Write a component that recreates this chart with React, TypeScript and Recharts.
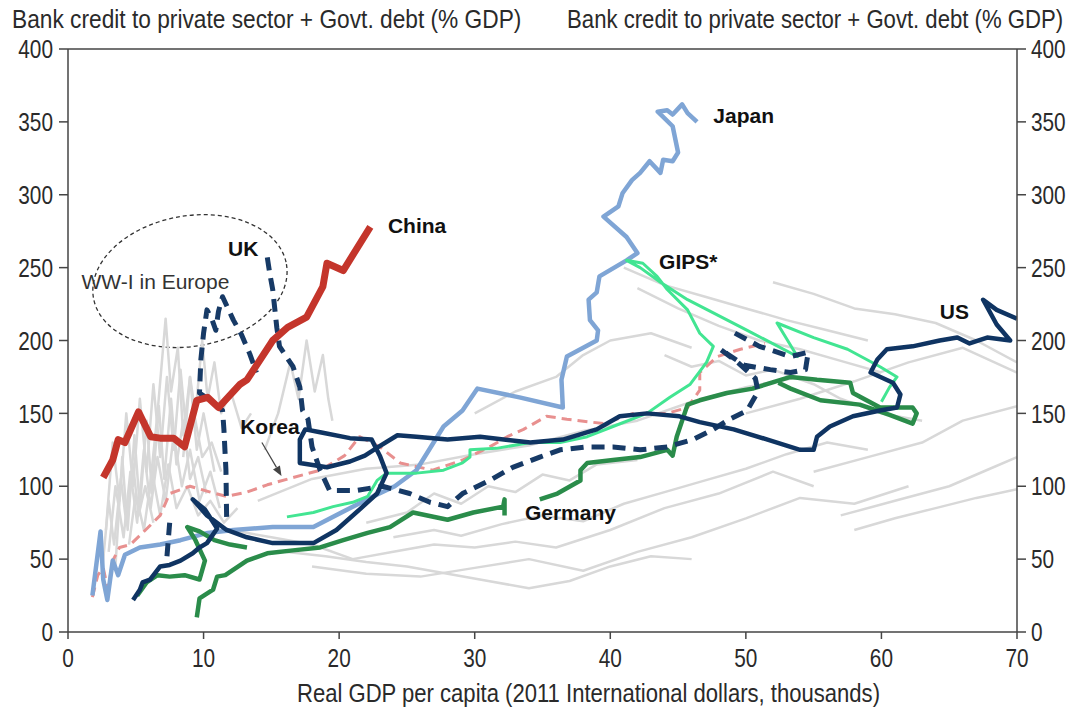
import React from 'react';
import { LineChart, Line, XAxis, YAxis, ReferenceLine, ReferenceArea, ReferenceDot } from 'recharts';

type Pt = [number, number | null];

const xTicks = [0, 10, 20, 30, 40, 50, 60, 70];
const yTicks = [0, 50, 100, 150, 200, 250, 300, 350, 400];

const yTitle = 'Bank credit to private sector  + Govt. debt (% GDP)';
const xTitle = 'Real GDP per capita (2011 International  dollars, thousands)';

const chinaPts: Pt[] = [
  [2.6, 106], [3.3, 118], [3.7, 132], [4.2, 130], [5.2, 151], [6.1, 134], [6.8, 133], [7.8, 133],
  [8.6, 127], [9.5, 159], [10.3, 161], [11.1, 154], [12.7, 170], [13.2, 173], [15.1, 200],
  [16.2, 209], [17.6, 216], [18.8, 237], [19.1, 253], [20.3, 248], [22.3, 278],
];

const japanPts: Pt[] = [
  [1.8, 25], [2.4, 69], [2.6, 36], [2.9, 22], [3.3, 49], [3.7, 39], [4.2, 53], [5.3, 58], [6.8, 60],
  [8.3, 63], [10.3, 68], [12.2, 70], [15.1, 72], [18.1, 72], [21.0, 86], [22.5, 93], [24.1, 100],
  [25.7, 111], [27.7, 141], [29.1, 152], [30.2, 167], [33.3, 161], [36.5, 154], [36.4, 173],
  [36.8, 189], [39.0, 200], [39.1, 207], [38.5, 214], [38.4, 228], [39.0, 233], [39.2, 244],
  [41.2, 255], [42.0, 260], [41.2, 271], [39.5, 285], [40.6, 292], [40.9, 301], [41.6, 310],
  [42.2, 315], [42.9, 323], [43.7, 315], [43.9, 324], [44.6, 323], [45.0, 329], [44.6, 347],
  [43.5, 357], [44.2, 358], [44.6, 355], [45.3, 362], [45.7, 356], [46.4, 350],
];

const ukPts: Pt[] = [
  [7.3, 52], [7.5, 75], [7.5, null],
  [11.7, 79], [11.65, 111], [11.5, 139], [11.4, 152], [10.5, 159], [9.7, 164], [9.8, 187], [10.0, 205],
  [10.25, 221], [10.6, 215], [10.9, 207], [11.1, 220], [11.4, 230], [11.8, 222], [12.2, 214],
  [12.8, 204], [13.4, 191], [13.9, 178], [13.9, null],
  [14.7, 257], [14.9, 245], [15.1, 235], [15.4, 209], [15.6, 196], [16.6, 182], [17.1, 168],
  [17.3, 152], [17.7, 146], [18.0, 127], [18.6, 111], [19.3, 97], [21.2, 97], [23.2, 100],
  [25.2, 95], [26.7, 89], [28.0, 86], [29.1, 95], [31.1, 104], [32.8, 113], [34.8, 120],
  [36.3, 125], [38.3, 127], [40.2, 127], [42.2, 125], [44.2, 127], [46.1, 132], [47.6, 139],
  [48.8, 146], [50.1, 152], [50.9, 165], [50.7, 174], [49.4, 185], [48.1, 194], [49.9, 183],
  [51.8, 180], [53.3, 178], [54.4, 180], [54.6, 192], [53.3, 189], [51.0, 196], [48.8, 207],
];

const koreaPts: Pt[] = [
  [1.8, 24], [2.2, 39], [2.6, 44], [2.95, 29], [3.3, 49], [3.8, 58], [4.6, 60], [5.5, 68],
  [6.8, 80], [7.5, 95], [9.0, 100], [10.5, 96], [11.7, 93], [13.2, 96], [14.7, 101], [16.6, 106],
  [18.6, 111], [20.4, 121], [21.5, 134], [23.0, 127], [24.5, 116], [26.9, 111], [29.1, 118],
  [31.1, 127], [32.4, 134], [33.6, 139], [35.3, 148], [36.8, 146], [39.5, 143], [41.7, 150],
  [44.2, 150], [45.7, 154], [46.6, 166], [46.6, 178], [47.9, 189], [49.6, 194], [51.4, 198],
];

const usPts: Pt[] = [
  [4.8, 22], [5.3, 29], [5.5, 34], [6.05, 36], [6.8, 45], [7.5, 46], [8.3, 49], [9.2, 54], [9.7, 58],
  [10.25, 61], [10.7, 67], [11.0, 71], [10.1, 84], [9.2, 91], [10.25, 80], [11.7, 70], [13.2, 65],
  [15.1, 61], [18.1, 61], [19.8, 70], [21.5, 84], [22.8, 95], [23.5, 109], [23.0, 121], [22.4, 132],
  [20.8, 133], [18.6, 137], [17.5, 139], [17.1, 132], [17.1, 116], [19.1, 113], [20.8, 117],
  [21.9, 121], [22.9, 127], [24.3, 135], [25.7, 134], [28.0, 132], [30.4, 134], [34.1, 130],
  [36.5, 132], [39.0, 139], [40.7, 148], [42.7, 150], [45.1, 148], [46.6, 144], [49.1, 139],
  [51.6, 132], [54.0, 125], [55.0, 125], [55.25, 134], [56.2, 141], [57.9, 148], [59.9, 152],
  [61.15, 154], [61.4, 163], [60.85, 171], [59.2, 178], [59.7, 187], [60.4, 194], [62.3, 196],
  [64.3, 200], [65.6, 202], [66.5, 198], [67.8, 202], [69.5, 200], [68.5, 211], [67.5, 228],
  [68.5, 221], [70.0, 215],
];

const gipsPts: Pt[] = [
  [16.15, 79], [18.1, 82], [19.55, 86], [21.0, 89], [22.1, 93], [22.8, 104], [23.5, 109], [25.7, 109],
  [27.7, 111], [29.1, 116], [29.65, 120], [29.65, 125], [31.6, 126], [34.1, 130], [36.3, 130],
  [38.3, 134], [40.2, 141], [42.7, 150], [44.4, 161], [45.9, 170], [47.1, 185], [47.6, 196],
  [46.6, 205], [45.7, 221], [44.2, 235], [43.45, 244], [42.4, 253], [41.2, 255], [42.2, 250],
  [43.7, 240], [45.7, 228], [47.6, 219], [50.1, 207], [53.8, 189], [52.3, 212], [55.0, 202],
  [57.5, 194], [59.9, 182], [61.15, 175], [60.6, 168], [60.0, 158],
];

const germanyPts: Pt[] = [
  [5.1, 25], [5.8, 34], [6.6, 39], [7.5, 38], [8.6, 39], [9.7, 36], [10.1, 49], [9.4, 63], [8.8, 72],
  [9.7, 69], [10.8, 63], [11.95, 60], [13.2, 58], [13.2, null],
  [9.5, 10], [9.7, 23], [10.7, 29], [11.0, 38], [11.6, 39], [13.2, 49], [14.7, 54], [16.6, 56],
  [18.6, 58], [20.3, 63], [22.1, 68], [23.75, 72], [25.45, 82], [28.0, 77], [29.9, 82], [32.1, 86],
  [32.2, 91], [32.2, 80], [32.2, null],
  [34.8, 91], [36.1, 95], [37.8, 104], [37.8, 111], [38.3, 116], [40.2, 118], [42.2, 120],
  [44.2, 125], [44.6, 121], [44.9, 134], [45.7, 156], [46.6, 159], [48.6, 164], [50.5, 167],
  [53.3, 175], [55.25, 173], [57.7, 171], [57.9, 164], [58.9, 159], [59.9, 154], [62.3, 154],
  [62.6, 150], [62.3, 143], [60.6, 149], [58.4, 156], [55.5, 159], [53.3, 167], [52.4, 171],
];

const grayA: Pt[] = [[3.5, 45], [4.0, 120], [4.4, 70], [4.9, 135], [5.3, 85], [5.8, 145], [6.2, 95], [6.7, 155], [7.1, 105], [7.6, 160], [8.0, 115], [8.5, 145], [9.0, 105], [9.6, 120], [10.2, 95]];
const grayB: Pt[] = [[3.0, 55], [3.5, 100], [4.1, 65], [4.6, 110], [5.1, 75], [5.6, 125], [6.1, 85], [6.6, 120], [7.2, 90], [7.8, 135], [8.4, 100], [9.0, 125], [9.7, 90], [10.5, 110], [11.2, 85]];
const grayC: Pt[] = [[6.0, 95], [6.6, 150], [7.2, 215], [7.6, 165], [8.1, 195], [8.5, 135], [9.0, 175], [9.5, 125], [10.0, 150], [10.8, 110]];
const grayD: Pt[] = [[4.5, 60], [5.0, 95], [5.6, 70], [6.2, 110], [6.8, 80], [7.4, 115], [8.0, 85], [8.8, 100], [9.6, 80], [10.5, 90], [11.5, 75], [12.5, 85]];
const grayE: Pt[] = [[14.5, 125], [15.5, 150], [16.4, 185], [17.0, 160], [17.6, 200], [18.2, 165], [18.8, 190], [19.2, 160], [19.5, 145]];
const grayF: Pt[] = [[12, 70], [15, 65], [18, 60], [21, 50], [24, 55], [27, 60], [30, 58], [33, 62], [36, 58], [40, 70], [44, 85], [48, 95], [52, 110], [55, 100]];
const grayG: Pt[] = [[18, 45], [22, 40], [26, 38], [30, 44], [34, 50], [38, 42], [42, 55], [46, 65], [50, 78], [54, 92], [58, 88], [62, 100]];
const grayH: Pt[] = [[14, 90], [18, 105], [22, 112], [26, 115], [30, 122], [34, 128], [38, 138], [42, 145], [46, 158], [50, 168], [54, 175]];
const grayI: Pt[] = [[41, 250], [44, 238], [47, 230], [50, 222], [53, 214], [56, 207], [59, 200]];
const grayJ: Pt[] = [[42, 236], [45, 222], [48, 210], [51, 200], [54, 194], [57, 186], [60, 178]];
const grayK: Pt[] = [[52, 240], [55, 232], [58, 222], [61, 218], [64, 212], [67, 200], [70, 185]];
const grayL: Pt[] = [[50, 150], [54, 160], [58, 172], [62, 185], [66, 195], [70, 178]];
const grayM: Pt[] = [[55, 110], [59, 120], [63, 130], [66, 145], [70, 155]];
const grayN: Pt[] = [[57, 80], [61, 90], [65, 100], [68, 112], [70, 120]];
const grayO: Pt[] = [[30, 150], [33, 165], [36, 175], [38, 190], [40, 200], [43, 205], [46, 195]];
const grayP: Pt[] = [[2.5, 40], [3.0, 90], [3.4, 60], [3.9, 105], [4.3, 75], [4.8, 115], [5.2, 80], [5.7, 100], [6.3, 75]];
const grayQ: Pt[] = [[22, 75], [25, 82], [27, 95], [29, 88], [31, 100], [33, 96], [35, 108], [37, 104], [39, 115], [42, 118]];
const grayR: Pt[] = [[44, 190], [46, 182], [48, 186], [50, 176], [52, 180], [55, 170], [57, 160], [60, 150], [63, 145]];
const grayS: Pt[] = [[2.8, 70], [3.3, 130], [3.8, 90], [4.3, 150], [4.8, 100], [5.3, 160], [5.8, 110], [6.3, 170], [6.8, 120], [7.3, 175], [7.8, 125], [8.3, 180], [8.8, 130], [9.3, 150], [9.9, 120], [10.6, 130], [11.3, 110]];
const grayT: Pt[] = [[8.5, 120], [9.0, 175], [9.4, 150], [9.9, 200], [10.3, 160], [10.8, 185], [11.3, 150], [12.0, 165], [12.8, 140], [13.5, 150]];
const grayU: Pt[] = [[16, 55], [19, 52], [22, 48], [25, 45], [28, 40], [31, 35], [34, 30], [37, 35], [40, 45], [43, 52], [46, 50]];
const grayV: Pt[] = [[24, 65], [27, 70], [29, 66], [32, 74], [35, 80], [38, 76], [41, 88], [44, 96], [47, 104], [50, 112], [53, 122], [56, 130], [59, 125]];
const grayW: Pt[] = [[58, 70], [61, 78], [64, 85], [67, 92], [70, 98]];

const grayList: Pt[][] = [
  grayA, grayB, grayC, grayD, grayE, grayF, grayG, grayH, grayI, grayJ, grayK, grayL,
  grayM, grayN, grayO, grayP, grayQ, grayR, grayS, grayT, grayU, grayV, grayW,
];

const labelNames = ['Japan', 'China', 'UK', 'WW-I in Europe', 'Korea', 'GIPS*', 'US', 'Germany'];
const labelX = [47.6, 23.6, 11.8, 1.0, 12.7, 43.6, 64.3, 33.7];
const labelY = [349, 274, 258, 235, 136, 249, 215, 77];
const labelBold = [true, true, true, false, true, true, true, true];

const ellipseX = [1.77, 16.22];
const ellipseY = [196, 285.5];
const arrowFrom = { x: 14.3, y: 130 };
const arrowTo = { x: 15.75, y: 107 };

const AXIS_FONT = "'Liberation Sans', Arial, sans-serif";
const LABEL_FONT = "'Liberation Sans', Arial, sans-serif";
const AXIS_COLOR = '#454545';
const TEXT_COLOR = '#2a2a2a';
const SQUEEZE = 0.8;

const toData = (pts: Pt[]) => pts.map(([x, y]) => ({ x, y }));

type SeriesStyle = { key: string; pts: Pt[]; color: string; width: number; dash?: string };

const series: SeriesStyle[] = [
  { key: 'korea', pts: koreaPts, color: '#e8908f', width: 3, dash: '10 6' },
  { key: 'japan', pts: japanPts, color: '#7fa5d5', width: 4.5 },
  { key: 'germany', pts: germanyPts, color: '#2a8c4a', width: 4.5 },
  { key: 'gips', pts: gipsPts, color: '#42e592', width: 3 },
  { key: 'uk', pts: ukPts, color: '#173a66', width: 5, dash: '13 8' },
  { key: 'us', pts: usPts, color: '#0f3462', width: 4.5 },
  { key: 'china', pts: chinaPts, color: '#c4352b', width: 7 },
];

const squeezedTitle = (x: number, y: number, anchor: 'start' | 'end', sx: number, text: string) => (
  <text
    x={0}
    y={0}
    fontFamily={AXIS_FONT}
    fontSize={26}
    fill={TEXT_COLOR}
    textAnchor={anchor}
    transform={`translate(${x} ${y}) scale(${sx} 1)`}
  >
    {text}
  </text>
);

const LeftTitle = (props: any) => {
  const vb = props.viewBox || { x: 0, y: 49 };
  return squeezedTitle(vb.x + 12, vb.y - 21, 'start', 0.874, yTitle);
};

const RightTitle = (props: any) => {
  const vb = props.viewBox || { x: 1017, y: 49 };
  return squeezedTitle(vb.x + 46, vb.y - 21, 'end', 0.851, yTitle);
};

const BottomTitle = (props: any) => {
  const vb = props.viewBox || { x: 68, y: 632, width: 949 };
  return (
    <text x={vb.x + 229} y={vb.y + 70} fontFamily={AXIS_FONT} fontSize={26} fill={TEXT_COLOR}
      textAnchor="start" textLength={583} lengthAdjust="spacingAndGlyphs">
      {xTitle}
    </text>
  );
};

const makeTick = (anchor: 'start' | 'middle' | 'end', dy: string) => (props: any) => {
  const { x, y, payload } = props;
  return (
    <text
      x={0}
      y={0}
      dy={dy}
      textAnchor={anchor}
      fontFamily={AXIS_FONT}
      fontSize={26}
      fill={TEXT_COLOR}
      transform={`translate(${x} ${y}) scale(${SQUEEZE} 1)`}
    >
      {payload.value}
    </text>
  );
};

const EllipseShape = (p: any) => {
  const cx = p.x + p.width / 2;
  const cy = p.y + p.height / 2;
  return (
    <ellipse
      cx={cx}
      cy={cy}
      rx={Math.abs(p.width) / 2}
      ry={Math.abs(p.height) / 2}
      fill="none"
      stroke="#333"
      strokeWidth={1.3}
      strokeDasharray="4 3"
      transform={`rotate(-10 ${cx} ${cy})`}
    />
  );
};

const ArrowShape = (p: any) => {
  const { x1, y1, x2, y2 } = p;
  const ang = Math.atan2(y2 - y1, x2 - x1);
  const L = 10;
  const W = 4;
  const bx = x2 - L * Math.cos(ang);
  const by = y2 - L * Math.sin(ang);
  const px = -Math.sin(ang) * W;
  const py = Math.cos(ang) * W;
  return (
    <g>
      <line x1={x1} y1={y1} x2={bx} y2={by} stroke="#444" strokeWidth={1.2} />
      <polygon points={`${x2},${y2} ${bx + px},${by + py} ${bx - px},${by - py}`} fill="#444" />
    </g>
  );
};

const makeLabelShape = (i: number) => (p: any) => (
  <text
    x={p.cx}
    y={p.cy}
    fontFamily={LABEL_FONT}
    fontSize={21}
    fontWeight={labelBold[i] ? 700 : 400}
    fill={labelBold[i] ? '#111' : '#333'}
    textAnchor="start"
  >
    {labelNames[i]}
  </text>
);

export default function App() {
  return (
    <div style={{ position: 'absolute', left: 0, top: 0, width: 1076, height: 714, background: '#fff' }}>
      <LineChart width={1076} height={714} margin={{ top: 49, right: 0, bottom: 32, left: 0 }}>
        <XAxis
          type="number"
          dataKey="x"
          domain={[0, 70]}
          allowDataOverflow
          ticks={xTicks}
          interval={0}
          height={50}
          tickSize={7}
          tickMargin={10}
          axisLine={{ stroke: AXIS_COLOR, strokeWidth: 1.5 }}
          tickLine={{ stroke: AXIS_COLOR, strokeWidth: 1.5 }}
          tick={makeTick('middle', '0.71em')}
          label={{ content: BottomTitle }}
        />
        <YAxis
          yAxisId="left"
          type="number"
          domain={[0, 400]}
          allowDataOverflow
          ticks={yTicks}
          interval={0}
          width={68}
          tickSize={9}
          tickMargin={6}
          axisLine={{ stroke: AXIS_COLOR, strokeWidth: 1.5 }}
          tickLine={{ stroke: AXIS_COLOR, strokeWidth: 1.5 }}
          tick={makeTick('end', '0.355em')}
          label={{ content: LeftTitle }}
        />
        <YAxis
          yAxisId="right"
          orientation="right"
          type="number"
          domain={[0, 400]}
          allowDataOverflow
          ticks={yTicks}
          interval={0}
          width={59}
          tickSize={9}
          tickMargin={5}
          axisLine={{ stroke: AXIS_COLOR, strokeWidth: 1.5 }}
          tickLine={{ stroke: AXIS_COLOR, strokeWidth: 1.5 }}
          tick={makeTick('start', '0.355em')}
          label={{ content: RightTitle }}
        />
        <ReferenceLine yAxisId="left" y={400} stroke={AXIS_COLOR} strokeWidth={1.5} />
        {grayList.map((g, i) => (
          <Line
            key={`gray${i}`}
            yAxisId="left"
            data={toData(g)}
            dataKey="y"
            type="linear"
            stroke="#d8d8d8"
            strokeWidth={2.5}
            dot={false}
            activeDot={false}
            isAnimationActive={false}
            strokeLinejoin="round"
          />
        ))}
        {series.map((s) => (
          <Line
            key={s.key}
            yAxisId="left"
            data={toData(s.pts)}
            dataKey="y"
            type="linear"
            stroke={s.color}
            strokeWidth={s.width}
            strokeDasharray={s.dash}
            dot={false}
            activeDot={false}
            connectNulls={false}
            isAnimationActive={false}
            strokeLinejoin="round"
          />
        ))}
        <ReferenceArea
          yAxisId="left"
          x1={ellipseX[0]}
          x2={ellipseX[1]}
          y1={ellipseY[0]}
          y2={ellipseY[1]}
          shape={EllipseShape}
        />
        <ReferenceLine yAxisId="left" segment={[arrowFrom, arrowTo]} shape={ArrowShape} />
        {labelNames.map((n, i) => (
          <ReferenceDot
            key={n}
            yAxisId="left"
            x={labelX[i]}
            y={labelY[i]}
            r={0}
            ifOverflow="visible"
            shape={makeLabelShape(i)}
          />
        ))}
      </LineChart>
    </div>
  );
}
